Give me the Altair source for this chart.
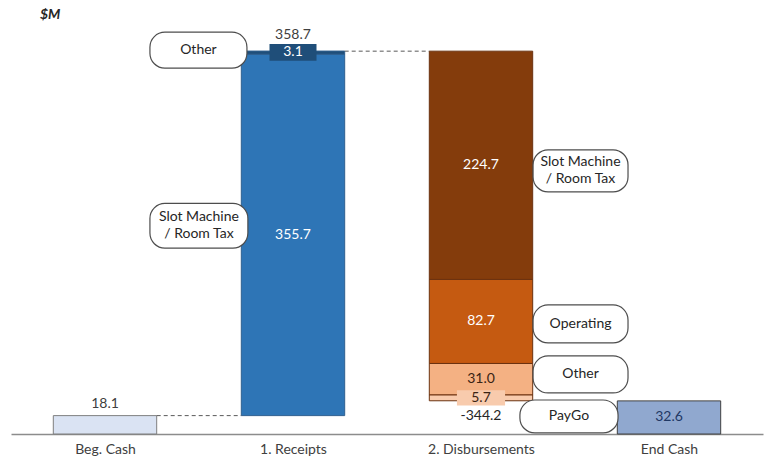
import json
import altair as alt
import pandas as pd

# ---------------- data ----------------
categories = ["Beg. Cash", "1. Receipts", "2. Disbursements", "End Cash"]
beg_cash = 18.1
receipt_parts = ["Slot Machine\n/ Room Tax", "Other"]
receipt_values = [355.7, 3.1]
receipt_colors = ["#2e75b6", "#1f4e79"]
disb_parts = ["Slot Machine\n/ Room Tax", "Operating", "Other", "PayGo"]
disb_values = [224.7, 82.7, 31.0, 5.7]
disb_colors = ["#843c0c", "#c55a11", "#f4b183", "#f8cbad"]
receipts_total = 358.7
disb_total = -344.2
end_cash = 32.6

FONT = "Lato"
HALF = 0.275   # half bar width (x units)
KPX = 1.016    # px per $M

# ---------------- bars ----------------
bars = []
bars.append(dict(x=0 - HALF, x2=0 + HALF, lo=0, hi=beg_cash, fill="#dae3f3", stroke="#7f7f7f"))
cum = beg_cash
receipt_seg = []
for name, v, c in zip(receipt_parts, receipt_values, receipt_colors):
    bars.append(dict(x=1 - HALF, x2=1 + HALF, lo=cum, hi=cum + v, fill=c, stroke="#2f5f8f"))
    receipt_seg.append((cum, cum + v))
    cum += v
top = beg_cash + receipts_total
cum = top
disb_seg = []
for name, v, c in zip(disb_parts, disb_values, disb_colors):
    bars.append(dict(x=2 - HALF, x2=2 + HALF, lo=cum - v, hi=cum, fill=c, stroke="#6b3210"))
    disb_seg.append((cum - v, cum))
    cum -= v
disb_bottom = top + disb_total
bars.append(dict(x=3 - HALF, x2=3 + HALF, lo=0, hi=end_cash, fill="#90a8cf", stroke="#404040"))
bars_df = pd.DataFrame(bars)

# ---------------- connectors ----------------
conn_df = pd.DataFrame([
    dict(x=0 + HALF, x2=1 - HALF, y=beg_cash),
    dict(x=1 + HALF, x2=2 - HALF, y=top),
])

# ---------------- value labels ----------------
def mid(seg):
    return (seg[0] + seg[1]) / 2

labels = [
    dict(x=0, y=beg_cash + 11.4, text=f"{beg_cash:.1f}", color="#404040"),
    dict(x=1, y=top + 15.9, text=f"{receipts_total:.1f}", color="#404040"),
    dict(x=1, y=mid(receipt_seg[0]), text=f"{receipt_values[0]:.1f}", color="#ffffff"),
    dict(x=1, y=mid(receipt_seg[1]) + 1, text=f"{receipt_values[1]:.1f}", color="#ffffff"),
    dict(x=2, y=mid(disb_seg[0]), text=f"{disb_values[0]:.1f}", color="#ffffff"),
    dict(x=2, y=mid(disb_seg[1]), text=f"{disb_values[1]:.1f}", color="#ffffff"),
    dict(x=2, y=mid(disb_seg[2]), text=f"{disb_values[2]:.1f}", color="#3a2414"),
    dict(x=2, y=mid(disb_seg[3]), text=f"{disb_values[3]:.1f}", color="#3a2414"),
    dict(x=2, y=disb_bottom - 14.5, text=f"{disb_total:.1f}", color="#262626"),
    dict(x=3, y=end_cash / 2, text=f"{end_cash:.1f}", color="#1f3864"),
]
labels_df = pd.DataFrame(labels)

# label backgrounds (for the thin segments)
lbg_df = pd.DataFrame([
    dict(x=1 - 0.125, x2=1 + 0.125, y=mid(receipt_seg[1]) - 8, y2=mid(receipt_seg[1]) + 8.5, fill=receipt_colors[1]),
    dict(x=2 - 0.128, x2=2 + 0.128, y=mid(disb_seg[3]) - 7.5, y2=mid(disb_seg[3]) + 7.5, fill=disb_colors[3]),
])

# ---------------- callouts ----------------
rl = 1 - HALF      # receipts bar left edge
dr = 2 + HALF      # disbursements bar right edge
LINE_H = 17
callouts = [
    dict(text=receipt_parts[1], x=rl - 0.486, x2=rl + 0.03, yc=top + 1, h=17.7),
    dict(text=receipt_parts[0], x=rl - 0.486, x2=rl + 0.035, yc=mid(receipt_seg[0]) + 9, h=22),
    dict(text=disb_parts[0], x=dr + 0.002, x2=dr + 0.507, yc=mid(disb_seg[0]) - 5.5, h=20.7),
    dict(text=disb_parts[1], x=dr + 0.002, x2=dr + 0.507, yc=mid(disb_seg[1]) - 2.4, h=18.7),
    dict(text=disb_parts[2], x=dr + 0.002, x2=dr + 0.507, yc=mid(disb_seg[2]) + 4.7, h=18.2),
    dict(text=disb_parts[3], x=dr - 0.068, x2=dr + 0.454, yc=mid(disb_seg[3]) - 18.3, h=16.2),
]
for c in callouts:
    c["y"] = c["yc"] - c["h"]
    c["y2"] = c["yc"] + c["h"]
    c["xc"] = (c["x"] + c["x2"]) / 2
    c["lines"] = c["text"].split("\n")
    c["ty"] = c["yc"] + (len(c["lines"]) - 1) * (LINE_H / 2) / KPX
call_df = pd.DataFrame(callouts)

# ---------------- chart ----------------
H = 406
ymax = H / KPX
xs = alt.Scale(domain=[-0.5, 3.5], nice=False, zero=False)
ys = alt.Scale(domain=[0, ymax], nice=False, zero=False)
label_expr = json.dumps(categories) + "[datum.value]"

bar_layer = alt.Chart(bars_df).mark_rect(strokeWidth=1).encode(
    x=alt.X("x:Q", scale=xs, axis=alt.Axis(
        values=[0, 1, 2, 3], labelExpr=label_expr, title=None, grid=False,
        ticks=False, domainColor="#8c8c8c", domainWidth=1.5, labelFont=FONT,
        labelFontSize=14, labelColor="#404040", labelPadding=8)),
    x2="x2:Q",
    y=alt.Y("lo:Q", scale=ys, axis=None),
    y2="hi:Q",
    fill=alt.Fill("fill:N", scale=None),
    stroke=alt.Stroke("stroke:N", scale=None),
)

conn_layer = alt.Chart(conn_df).mark_rule(color="#595959", strokeDash=[4, 3], strokeWidth=1).encode(
    x=alt.X("x:Q", scale=xs), x2="x2:Q", y=alt.Y("y:Q", scale=ys))

lbg_layer = alt.Chart(lbg_df).mark_rect().encode(
    x=alt.X("x:Q", scale=xs), x2="x2:Q",
    y=alt.Y("y:Q", scale=ys), y2="y2:Q",
    fill=alt.Fill("fill:N", scale=None))

label_layer = alt.Chart(labels_df).mark_text(font=FONT, fontSize=14, baseline="middle").encode(
    x=alt.X("x:Q", scale=xs), y=alt.Y("y:Q", scale=ys),
    text="text:N", color=alt.Color("color:N", scale=None))

call_box = alt.Chart(call_df).mark_rect(cornerRadius=15, fill="#ffffff", stroke="#4d4d4d", strokeWidth=1.2).encode(
    x=alt.X("x:Q", scale=xs), x2="x2:Q",
    y=alt.Y("y:Q", scale=ys), y2="y2:Q")

call_text = alt.Chart(call_df).mark_text(font=FONT, fontSize=14, baseline="middle", color="#262626", lineHeight=LINE_H).encode(
    x=alt.X("xc:Q", scale=xs), y=alt.Y("ty:Q", scale=ys), text="lines")

chart = alt.layer(bar_layer, lbg_layer, conn_layer, label_layer, call_box, call_text).properties(
    width=752, height=H,
    background="#ffffff",
    padding={"left": 11, "right": 7, "top": 8, "bottom": 0},
    title=alt.TitleParams("$M", anchor="start", fontSize=14, fontStyle="italic", fontWeight="bold",
                          font=FONT, color="#262626", dx=29, offset=6),
).configure_view(strokeWidth=0, stroke="transparent")

chart.save("out.html", embed_options={"renderer": "svg", "actions": False})
